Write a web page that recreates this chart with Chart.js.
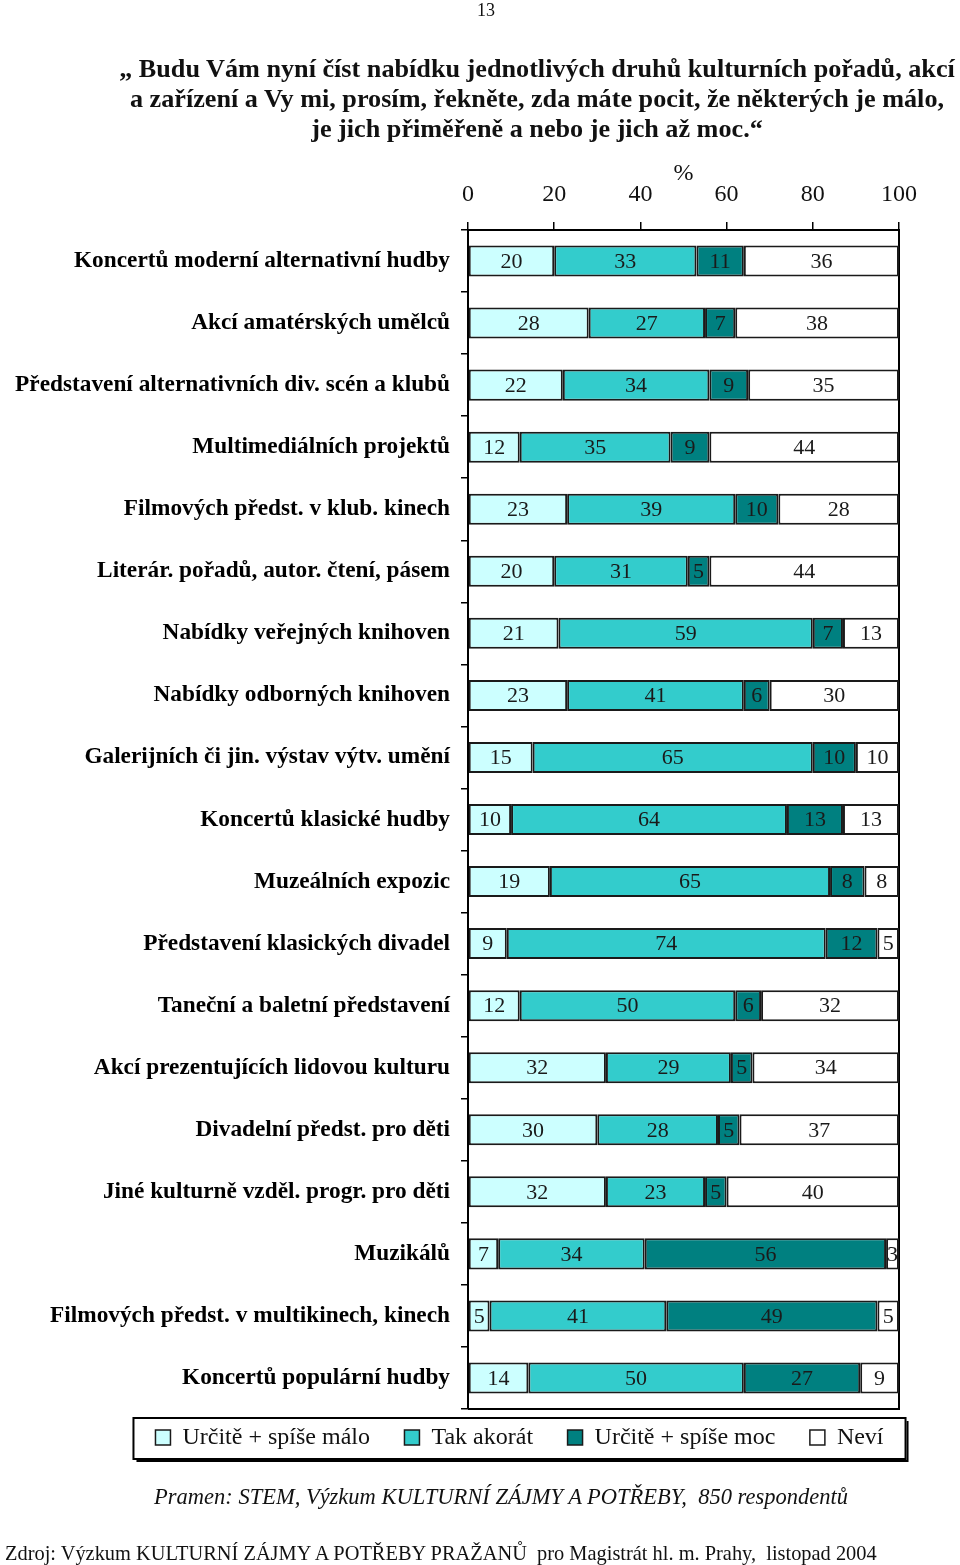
<!DOCTYPE html>
<html>
<head>
<meta charset="utf-8">
<script src="https://cdn.jsdelivr.net/npm/chart.js@4"></script>
<style>
  body { margin: 0; background: #fff; font-family: "Liberation Serif", "Times New Roman", serif; color: #111; }
  #page { position: relative; width: 960px; height: 1565px; overflow: hidden; }
  .txt { position: absolute; white-space: nowrap; }
  #chartBox { position: absolute; left: 0; top: 0; width: 960px; height: 1565px; }
</style>
</head>
<body>
<div id="page">
  <div id="chartBox"><canvas id="cultureChart"></canvas></div>
  <div class="txt" style="left:436px; top:0; width:100px; text-align:center; font-size:18px; line-height:20px;">13</div>
  <div class="txt" style="left:77px; top:54px; width:920px; text-align:center; font-size:26.2px; line-height:30px; font-weight:bold;">„ Budu Vám nyní číst nabídku jednotlivých druhů kulturních pořadů, akcí<br>a zařízení a Vy mi, prosím, řekněte, zda máte pocit, že některých je málo,<br>je jich přiměřeně a nebo je jich až moc.“</div>
  <div class="txt" style="left:101px; top:1484px; width:800px; text-align:center; font-size:22.5px; line-height:26px; font-style:italic;">Pramen: STEM, Výzkum KULTURNÍ ZÁJMY A POTŘEBY,&nbsp; 850 respondentů</div>
  <div class="txt" style="left:5px; top:1541px; font-size:20.4px; line-height:24px;">Zdroj: Výzkum KULTURNÍ ZÁJMY A POTŘEBY PRAŽANŮ&nbsp; pro Magistrát hl. m. Prahy,&nbsp; listopad 2004</div>
</div>
<script>
// data
const categories = [
  "Koncertů moderní alternativní hudby",
  "Akcí amatérských umělců",
  "Představení alternativních div. scén a klubů",
  "Multimediálních projektů",
  "Filmových předst. v klub. kinech",
  "Literár. pořadů, autor. čtení, pásem",
  "Nabídky veřejných knihoven",
  "Nabídky odborných knihoven",
  "Galerijních či jin. výstav výtv. umění",
  "Koncertů klasické hudby",
  "Muzeálních expozic",
  "Představení klasických divadel",
  "Taneční a baletní představení",
  "Akcí prezentujících lidovou kulturu",
  "Divadelní předst. pro děti",
  "Jiné kulturně vzděl. progr. pro děti",
  "Muzikálů",
  "Filmových předst. v multikinech, kinech",
  "Koncertů populární hudby"
];
const seriesNames = ["Určitě + spíše málo", "Tak akorát", "Určitě + spíše moc", "Neví"];
const tooFew  = [20, 28, 22, 12, 23, 20, 21, 23, 15, 10, 19,  9, 12, 32, 30, 32,  7,  5, 14];
const justOk  = [33, 27, 34, 35, 39, 31, 59, 41, 65, 64, 65, 74, 50, 29, 28, 23, 34, 41, 50];
const tooMany = [11,  7,  9,  9, 10,  5,  7,  6, 10, 13,  8, 12,  6,  5,  5,  5, 56, 49, 27];
const dontKnow= [36, 38, 35, 44, 28, 44, 13, 30, 10, 13,  8,  5, 32, 34, 37, 40,  3,  5,  9];
const xTicks = [0, 20, 40, 60, 80, 100];

const colors = ["#CCFFFF", "#33CCCC", "#008080", "#FFFFFF"];
const serif = "'Liberation Serif', 'Times New Roman', serif";
Chart.defaults.font.family = serif;
Chart.defaults.color = "#111";

// numbers in the middle of each segment
const segmentLabels = {
  id: "segmentLabels",
  afterDatasetsDraw(chart) {
    const ctx = chart.ctx;
    ctx.save();
    ctx.font = "22px " + serif;
    ctx.fillStyle = "#1a1a1a";
    ctx.textAlign = "center";
    ctx.textBaseline = "middle";
    chart.data.datasets.forEach((ds, i) => {
      chart.getDatasetMeta(i).data.forEach((bar, j) => {
        const p = bar.getCenterPoint();
        ctx.fillText(ds.data[j], p.x, p.y + 1);
      });
    });
    ctx.restore();
  }
};

// legend centred under the plot, not under the whole canvas width
const legendSpan = {
  id: "legendSpan",
  afterLayout(chart) {
    chart.legend.left = 100;
    chart.legend.right = 939;
  }
};

// bottom edge of plot and frame round the legend
const frame = {
  id: "frame",
  afterDraw(chart) {
    const ctx = chart.ctx;
    const a = chart.chartArea;
    ctx.save();
    ctx.strokeStyle = "#000";
    ctx.lineWidth = 2;
    ctx.beginPath();
    ctx.moveTo(a.left, a.bottom);
    ctx.lineTo(a.right + 1, a.bottom);
    ctx.stroke();

    const hb = chart.legend.legendHitBoxes;
    const last = hb[hb.length - 1];
    const l = hb[0].left - 22, r = last.left + last.width + 22;
    const t = hb[0].top - 7.5, b = hb[0].top + 33.5;
    ctx.strokeRect(l, t, r - l, b - t);
    ctx.beginPath();
    ctx.moveTo(l + 3, b + 2);
    ctx.lineTo(r + 2, b + 2);
    ctx.lineTo(r + 2, t + 3);
    ctx.stroke();
    ctx.restore();
  }
};

const ctx = document.getElementById("cultureChart").getContext("2d");
const values = [tooFew, justOk, tooMany, dontKnow];

const cultureChart = new Chart(ctx, {
  type: "bar",
  data: {
    labels: categories,
    datasets: seriesNames.map((name, i) => ({
      label: name,
      data: values[i],
      backgroundColor: colors[i],
      borderColor: "#1a1a1a",
      borderWidth: 2,
      borderSkipped: false,
      categoryPercentage: 1,
      barPercentage: 0.5
    }))
  },
  options: {
    indexAxis: "y",
    responsive: true,
    maintainAspectRatio: false,
    animation: false,
    layout: { padding: { top: 150, left: 5, right: 21, bottom: 105.5 } },
    scales: {
      x: {
        position: "top",
        stacked: true,
        min: 0,
        max: 100,
        afterBuildTicks: (s) => { s.ticks = xTicks.map(v => ({ value: v })); },
        afterFit: (s) => { s.height = 80; },
        ticks: { font: { size: 24 }, color: "#111", padding: 13, maxRotation: 0 },
        grid: { drawOnChartArea: false, tickLength: 8, color: "#000", lineWidth: 1.5 },
        border: { color: "#000", width: 2 },
        title: { display: true, text: "%", font: { size: 24 }, color: "#111", padding: { top: 9, bottom: 0 } }
      },
      y: {
        stacked: true,
        afterFit: (s) => { s.width = 463; },
        ticks: { font: { size: 23.3, weight: "bold" }, color: "#000", padding: 11, autoSkip: false },
        grid: { drawOnChartArea: false, tickLength: 7, color: "#000", lineWidth: 1.5 },
        border: { color: "#000", width: 2 }
      },
      y2: {
        type: "linear",
        position: "right",
        afterFit: (s) => { s.width = 40; },
        ticks: { display: false },
        grid: { display: false },
        border: { color: "#000", width: 2 }
      }
    },
    plugins: {
      tooltip: { enabled: false },
      legend: {
        position: "bottom",
        labels: {
          boxWidth: 15,
          boxHeight: 15,
          padding: 16.5,
          color: "#111",
          font: { size: 24 },
          generateLabels: (chart) => {
            const items = Chart.defaults.plugins.legend.labels.generateLabels(chart);
            items.forEach((it, i) => {
              it.lineWidth = 1.5;
              if (i < items.length - 1) it.text = it.text + "   ";
            });
            return items;
          }
        }
      }
    }
  },
  plugins: [segmentLabels, legendSpan, frame]
});
</script>
</body>
</html>
